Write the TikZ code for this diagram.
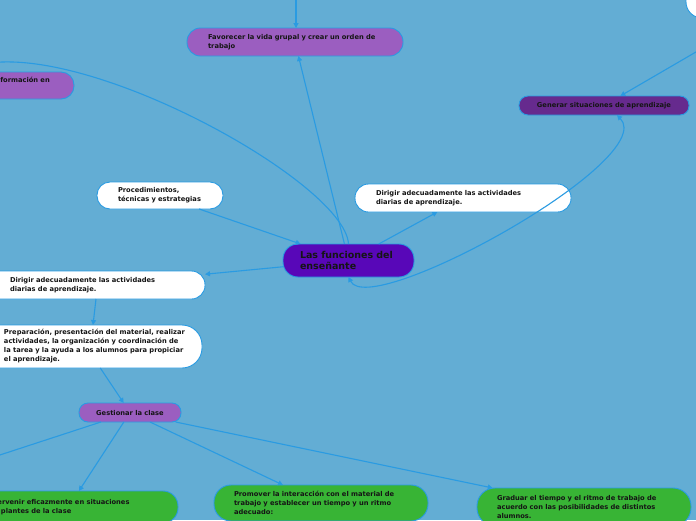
\documentclass[tikz,border=0pt]{standalone}
\usepackage{fontspec}
\setmainfont{DejaVu Sans}
\usetikzlibrary{arrows.meta}
\definecolor{bg}{HTML}{63ADD4}
\definecolor{lnk}{HTML}{2A9BE2}
\definecolor{purp}{HTML}{9B5EC0}
\definecolor{dpurp}{HTML}{662A8E}
\definecolor{cpurp}{HTML}{5807B8}
\definecolor{grn}{HTML}{38B435}
\definecolor{txt}{HTML}{151515}
\begin{document}
\begin{tikzpicture}[x=1pt,y=-1pt,
  mbox/.style={draw=lnk, line width=0.9pt, text=txt, font=\bfseries\fontsize{6.7}{9}\selectfont,
    align=left, inner ysep=0pt, outer sep=0pt},
  link/.style={draw=lnk, line width=1.1pt, -{Triangle[length=5pt,width=5pt]}},
  dlink/.style={draw=lnk, line width=1.1pt, {Triangle[length=5pt,width=5pt]}-{Triangle[length=5pt,width=5pt]}},
]
\useasboundingbox (0,0) rectangle (696,520);
\fill[bg] (0,0) rectangle (696,520);

% nodes
\node[mbox, fill=purp, minimum width=216pt, minimum height=28pt, rounded corners=13.5pt,
  text width=174pt, inner xsep=21pt] (fav) at (295,42)
  {\mbox{Favorecer la vida grupal y crear un orden de}\\\mbox{trabajo}};
\node[mbox, fill=purp, minimum width=114pt, minimum height=27pt, rounded corners=13pt,
  text width=48pt, inner xsep=33pt] (info) at (17,85.5)
  {\mbox{Información en}\\\strut};
\node[mbox, fill=white, minimum width=150pt, minimum height=38pt, rounded corners=16pt] (topr) at (761,-1) {};
\node[mbox, fill=dpurp, minimum width=170pt, minimum height=19pt, rounded corners=9pt, align=center] (gen) at (604,105.5)
  {Generar situaciones de aprendizaje};
\node[mbox, fill=white, minimum width=126pt, minimum height=27pt, rounded corners=13pt,
  text width=84pt, inner xsep=21pt] (proc) at (160,195.5)
  {\mbox{Procedimientos,}\\\mbox{técnicas y estrategias}};
\node[mbox, fill=white, minimum width=216pt, minimum height=28pt, rounded corners=13.5pt,
  text width=174pt, inner xsep=21pt] (dirR) at (463,198)
  {\mbox{Dirigir adecuadamente las actividades}\\\mbox{diarias de aprendizaje.}};
\node[mbox, fill=cpurp, minimum width=131pt, minimum height=33pt, rounded corners=15pt,
  text width=97pt, inner xsep=17pt, font=\bfseries\fontsize{9.5}{11}\selectfont] (central) at (348.5,260.5)
  {\mbox{Las funciones del}\\\mbox{enseñante}};
\node[mbox, fill=white, minimum width=225pt, minimum height=28pt, rounded corners=13.5pt,
  text width=165pt, inner xsep=30pt] (dirL) at (92.5,285)
  {\mbox{Dirigir adecuadamente las actividades}\\\mbox{diarias de aprendizaje.}};
\node[mbox, fill=white, minimum width=232pt, minimum height=43pt, rounded corners=20pt,
  text width=164pt, inner xsep=34pt] (prep) at (86,346.5)
  {\mbox{Preparación, presentación del material, realizar}\\\mbox{actividades, la organización y coordinación de}\\\mbox{la tarea y la ayuda a los alumnos para propiciar}\\\mbox{el aprendizaje.}};
\node[mbox, fill=purp, minimum width=102pt, minimum height=19pt, rounded corners=9pt, align=center] (gest) at (130,412.5)
  {Gestionar la clase};
\node[mbox, fill=grn, minimum width=217pt, minimum height=32pt, rounded corners=15pt,
  text width=163pt, inner xsep=28pt] (grnL) at (68.5,507)
  {\mbox{Intervenir eficazmente en situaciones}\\\mbox{\hspace*{14pt}plantes de la clase}};
\node[mbox, fill=grn, minimum width=214pt, minimum height=36pt, rounded corners=17pt,
  text width=174pt, inner xsep=20pt] (prom) at (321,503)
  {\mbox{Promover la interacción con el material de}\\\mbox{trabajo y establecer un tiempo y un ritmo}\\\mbox{adecuado:}};
\node[mbox, fill=grn, minimum width=214pt, minimum height=38pt, rounded corners=18pt,
  text width=174pt, inner xsep=20pt] (grad) at (584,507)
  {\mbox{Graduar el tiempo y el ritmo de trabajo de}\\\mbox{acuerdo con las posibilidades de distintos}\\\mbox{alumnos.}};

% free ends
\coordinate (offT) at (296,-30);
\coordinate (offTR) at (720,38);
\coordinate (offL) at (-40,468);

% connectors
\draw[link] (offT) -- ([xshift=1pt]fav.north);
\draw[link] (central) -- (fav);
\draw[link] (central.north) .. controls (345,180) and (60,25) .. ([xshift=-57pt]info.north);
\draw[link] (offTR) -- (gen);
\draw[link] (proc) -- (central);
\draw[link] (central) -- (dirR);
\draw[dlink] (central.south) .. controls (370,320) and (660,160) .. ([xshift=13pt]gen.south);
\draw[link] (central) -- (dirL);
\draw[link] ([xshift=3.5pt]dirL.south) -- ([xshift=7pt]prep.north);
\draw[link] (prep) -- (gest);
\draw[link] (gest) -- (offL);
\draw[link] (gest) -- (grnL);
\draw[link] (gest) -- (prom);
\draw[link] (gest) -- (grad);
\end{tikzpicture}
\end{document}
